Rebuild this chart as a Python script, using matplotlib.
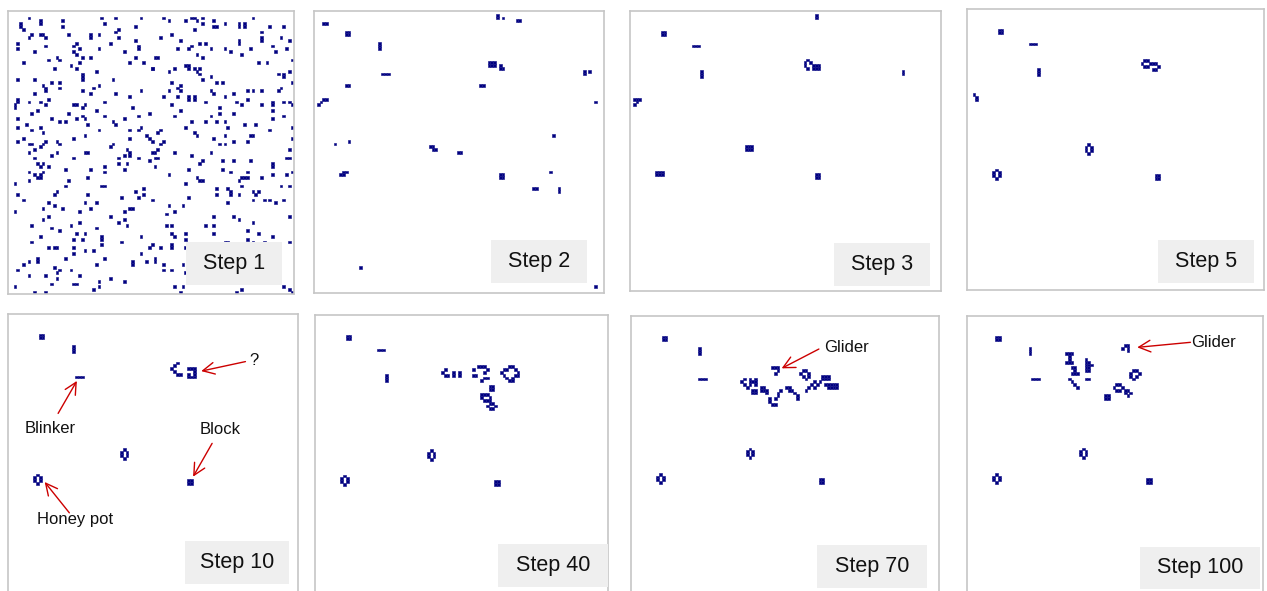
import matplotlib.pyplot as plt
from matplotlib.patches import Rectangle
from matplotlib.collections import PatchCollection

plt.rcParams['font.family'] = ['Liberation Sans', 'DejaVu Sans']

# live cells of each snapshot, (column, row) on the board, row 0 at the top
step1_cells = [
    (7,2),(4,4),(4,5),(5,6),(11,3),(11,4),(19,3),(19,5),(33,2),(34,4),(38,2),(47,2),(45,5),(39,6),(38,7),
    (39,9),(7,9),(8,8),(11,8),(12,8),(13,9),(21,8),(29,8),(29,9),(32,8),(36,11),(45,10),(46,12),(46,13),
    (3,11),(3,13),(9,14),(13,12),(23,12),(24,11),(25,13),(23,14),(24,15),(32,13),(41,14),(45,16),(52,16),
    (5,18),(14,17),(17,16),(18,17),(26,16),(29,16),(25,18),(22,19),(24,20),(16,20),(43,18),(48,18),(51,20),
    (31,21),(26,22),(26,23),(26,24),(3,24),(9,24),(15,25),(18,25),(18,27),(12,26),(13,27),(13,28),(37,24),
    (32,26),(30,27),(26,28),(29,29),(9,29),(14,31),(47,28),(38,29),(43,30),(3,31),(3,32),(2,33),(2,34),
    (7,32),(11,32),(13,33),(23,33),(24,33),(27,33),(26,34),(34,32),(44,34),(10,35),(8,36),(21,36),(26,37),
    (27,38),(31,35),(34,37),(41,38),(46,37),(50,36),(3,38),(15,38),(18,39),(20,39),(24,38),(28,40),(37,39),
    (38,40),(6,40),(3,41),(11,41),(12,43),(8,42),(32,42),(43,42),(47,41),(46,42),(27,44),(23,45),(5,45),
    (3,46),(49,44),(50,45),(51,46),(43,45),(7,47),(8,47),(11,48),(12,47),(13,46),(17,46),(18,47),(9,49),
    (37,47),(36,48),(7,50),(15,51),(17,50),(27,50),(28,50),(42,49),(43,50),(43,51),(41,51),(51,50),
    (55,2),(57,3),(63,3),(65,2),(66,2),(67,3),(69,2),(69,4),(66,6),(73,3),(73,5),(74,5),(77,4),(82,4),
    (82,5),(84,4),(84,5),(87,2),(93,5),(98,5),(90,7),(90,9),(90,10),(54,9),(58,8),(61,10),(68,11),(70,11),
    (82,10),(82,11),(97,9),(100,10),(60,13),(64,13),(65,12),(72,13),(77,13),(79,14),(83,15),(86,13),
    (94,12),(95,14),(99,13),(67,15),(69,16),(53,16),(101,17),(89,18),(92,18),(51,20),(57,21),(59,20),
    (63,19),(64,19),(64,20),(66,20),(67,21),(68,20),(68,22),(69,24),(72,23),(74,25),(76,25),(96,22),
    (98,22),(98,23),(100,21),(101,25),(58,25),(61,26),(60,27),(61,28),(57,28),(72,28),(73,29),(77,30),
    (80,29),(85,28),(87,28),(90,28),(96,28),(97,27),(55,30),(60,30),(64,30),(64,31),(66,30),(66,31),
    (70,32),(75,34),(81,32),(83,33),(85,31),(90,33),(94,32),(94,33),(98,32),(100,32),(101,33),(58,33),
    (61,35),(59,37),(75,36),(80,36),(94,35),(94,38),(98,37),(72,37),(65,39),(70,39),(74,39),(77,39),
    (63,41),(78,41),(84,40),(88,40),(101,41),(93,42),(54,42),(53,43),(66,43),(67,44),(73,45),(77,44),
    (86,44),(87,44),(101,45),(55,46),(54,47),(75,47),(77,47),(80,46),(85,46),(53,49),(52,50),(59,50),
    (65,51),(72,50),(100,49),
    (9,52),(23,52),(39,52),(46,52),(52,52),(50,53),(10,54),(11,55),(12,54),(14,55),(20,56),(29,56),
    (34,55),(34,57),(39,54),(42,54),(41,56),(52,55),(7,57),(9,58),(10,59),(11,59),(12,57),(11,58),
    (7,60),(2,61),(21,60),(28,59),(33,62),(34,62),(20,62),(48,63),(45,64),(46,66),(48,65),(3,65),
    (16,65),(17,64),(28,65),(40,66),(5,67),(14,68),(16,69),(27,68),(31,68),(29,70),(19,70),(12,70),
    (25,71),(41,71),(43,70),(44,70),(51,67),(2,71),(14,73),(12,74),(36,73),(41,74),(39,75),(42,76),
    (25,75),(22,76),(8,76),(15,77),(18,78),(31,77),(24,79),(27,79),(33,80),(33,81),(33,83),(23,81),
    (26,81),(11,80),(47,80),(8,82),(40,82),(51,83),(50,84),(14,84),(16,84),(17,84),(23,84),(23,86),
    (27,85),(30,85),(47,86),(20,88),(34,88),(10,88),(10,89),(7,89),(5,90),(44,89),(44,90),(49,89),
    (52,88),(52,89),(16,91),(18,92),(17,93),(22,92),(3,92),(7,94),(13,94),(17,95),(31,90),(25,94),
    (32,96),(36,95),(41,96),(15,97),(23,97),(24,97),(32,98),(30,99),(2,98),(9,100),(13,100),
    (53,52),(69,53),(68,54),(76,53),(80,53),(86,53),(94,54),(94,55),(99,52),(100,52),(57,58),(64,56),
    (76,56),(79,57),(85,57),(83,59),(84,59),(85,59),(82,60),(90,59),(94,58),(99,58),(101,57),(67,59),
    (68,60),(69,60),(63,61),(74,63),(74,65),(78,63),(79,64),(79,65),(82,65),(83,62),(87,64),(88,65),
    (89,64),(97,62),(100,62),(64,66),(78,68),(87,67),(91,67),(93,67),(95,68),(98,67),(57,69),(62,69),
    (59,71),(56,72),(73,73),(80,73),(82,74),(87,75),(100,73),(56,76),(58,76),(70,76),(73,76),(58,79),
    (59,80),(63,79),(63,81),(73,79),(85,78),(89,79),(94,80),(77,82),(78,82),(85,81),(87,82),(91,82),
    (100,82),(54,84),(58,83),(58,84),(63,84),(72,83),(55,90),(55,92),(58,92),(62,90),(63,93),(59,98),
    (62,98),(61,100),(81,100),(83,99),(98,98),(100,99),(101,100),
]

step2_cells = [
    (3,4),(4,4),(11,7),(12,7),(11,8),(12,8),(23,11),(23,12),(23,13),(24,22),(25,22),(26,22),
    (11,26),(12,26),(3,31),(4,31),(2,32),(1,33),(65,1),(65,2),(67,2),(72,3),(73,3),
    (62,18),(63,18),(64,18),(62,19),(63,19),(64,19),(66,19),(66,20),(67,20),(96,21),(96,22),(98,21),
    (59,26),(60,26),(100,32),(85,44),(7,47),(12,46),(41,48),(42,48),(42,49),(43,49),(51,50),(52,50),
    (10,57),(11,57),(9,58),(10,58),(66,58),(67,58),(66,59),(67,59),(84,57),(78,63),(79,63),
    (87,63),(87,64),(16,91),(100,98),
]

step3_cells = [
    (66,1),(66,2),(11,7),(12,7),(11,8),(12,8),(22,12),(23,12),(24,12),(25,21),(25,22),(25,23),
    (63,17),(62,18),(64,18),(62,19),(63,20),(65,19),(66,19),(67,19),(65,20),(66,20),(67,20),
    (97,21),(97,22),(1,31),(2,31),(3,31),(2,32),(1,33),
    (41,48),(42,48),(43,48),(41,49),(42,49),(43,49),(9,57),(10,57),(11,57),(9,58),(10,58),(11,58),
    (66,58),(67,58),(66,59),(67,59),
]

step5_cells = [
    (11,7),(12,7),(11,8),(12,8),(22,12),(23,12),(24,12),(25,21),(25,22),(25,23),(2,30),(3,31),(3,32),
    (63,18),(64,18),(62,19),(65,19),(66,19),(67,19),(63,20),(64,20),(68,20),(66,21),(67,21),
    (43,48),(42,49),(44,49),(42,50),(44,50),(43,51),(10,57),(9,58),(11,58),(9,59),(11,59),(10,60),
    (67,59),(68,59),(67,60),(68,60),
]

step10_cells = [
    (11,7),(12,7),(11,8),(12,8),(23,11),(23,12),(23,13),(24,22),(25,22),(26,22),
    (60,17),(59,18),(58,19),(59,20),(60,21),(61,21),
    (64,19),(65,19),(66,19),(66,20),(64,21),(66,21),(64,22),(65,22),(66,22),
    (41,48),(40,49),(42,49),(40,50),(42,50),(41,51),(10,57),(9,58),(11,58),(9,59),(11,59),(10,60),
    (64,59),(65,59),(64,60),(65,60),
]

step40_cells = [
    (11,7),(12,7),(11,8),(12,8),(22,12),(23,12),(24,12),(25,21),(25,22),(25,23),
    (46,19),(45,20),(46,21),(47,21),(49,20),(49,21),(51,20),(51,21),
    (58,18),(59,18),(60,18),(56,19),(61,19),(60,20),(56,21),(57,21),(61,22),(60,22),(59,23),
    (69,18),(70,18),(67,19),(68,19),(71,19),(66,20),(72,20),(67,21),(71,21),(72,21),(68,22),(70,22),
    (69,23),(70,23),
    (62,25),(63,25),(62,26),(63,26),(59,28),(60,28),(61,28),(59,29),(62,29),(60,30),(61,30),(62,30),
    (62,31),(63,31),(61,32),(64,32),(62,33),(63,33),
    (41,48),(40,49),(42,49),(40,50),(42,50),(41,51),(10,57),(9,58),(11,58),(9,59),(11,59),(10,60),
    (64,59),(65,59),(64,60),(65,60),
]

step70_cells = [
    (11,7),(12,7),(11,8),(12,8),(24,11),(24,12),(24,13),(24,22),(25,22),(26,22),
    (50,18),(51,18),(52,18),(52,19),(51,20),
    (61,19),(62,19),(60,20),(63,20),(61,21),(63,21),(62,22),
    (40,22),(39,23),(40,24),(41,25),(42,22),(42,23),(42,24),(43,23),(44,22),(44,23),(44,24),
    (43,26),(44,26),(43,27),(44,27),(46,25),(47,25),(46,26),(47,26),
    (48,26),(48,27),(49,29),(49,30),(53,26),(52,27),(52,28),(51,29),
    (55,25),(56,25),(56,26),(57,26),(58,27),(59,28),(59,29),(50,31),(51,31),
    (62,26),(63,25),(64,24),(65,23),(66,24),(65,25),(67,23),
    (68,21),(69,21),(70,21),(68,22),(69,22),(70,22),
    (69,24),(70,24),(71,24),(72,24),(73,24),(70,25),(71,25),(72,25),(73,25),
    (42,47),(41,48),(43,48),(41,49),(43,49),(42,50),(10,56),(9,57),(11,57),(9,58),(11,58),(10,59),
    (67,58),(68,58),(67,59),(68,59),
]

step100_cells = [
    (10,7),(11,7),(10,8),(11,8),(22,11),(22,12),(22,13),(23,22),(24,22),(25,22),
    (56,10),(57,10),(55,11),(57,11),(57,12),
    (35,13),(36,13),(37,13),(36,14),(36,15),(35,16),(36,16),(37,16),
    (37,18),(38,18),(38,19),(37,20),(38,20),(39,20),
    (42,15),(42,16),(43,16),(42,17),(43,17),(44,17),(42,18),(43,18),(42,19),(43,19),(42,22),(43,22),
    (36,22),(37,23),(38,24),(39,25),
    (59,19),(60,19),(58,20),(61,20),(58,21),(60,21),(59,22),
    (53,24),(54,24),(52,25),(55,25),(53,26),(54,26),
    (56,26),(57,26),(56,27),(58,27),(57,28),(49,28),(50,28),(49,29),(50,29),
    (41,47),(40,48),(42,48),(40,49),(42,49),(41,50),(10,56),(9,57),(11,57),(9,58),(11,58),(10,59),
    (64,58),(65,58),(64,59),(65,59),
]

step_labels = ['Step 1', 'Step 2', 'Step 3', 'Step 5', 'Step 10', 'Step 40', 'Step 70', 'Step 100']
all_cells = [step1_cells, step2_cells, step3_cells, step5_cells,
             step10_cells, step40_cells, step70_cells, step100_cells]

# callouts: panel, text, text centre, arrow tail, arrow head (board units)
notes = [
    (4, '?', (87.7, 16.7), (84.8, 17.0), (69.0, 20.4)),
    (4, 'Blinker', (15.1, 40.8), (17.9, 35.5), (24.6, 23.9)),
    (4, 'Block', (75.6, 41.4), (72.9, 46.2), (66.1, 58.1)),
    (4, 'Honey pot', (24.0, 73.3), (21.9, 71.0), (13.1, 60.0)),
    (6, 'Glider', (77.0, 11.2), (67.1, 11.8), (53.8, 18.7)),
    (7, 'Glider', (88.1, 9.4), (79.8, 9.4), (60.8, 11.2)),
]

W, H = 1267, 591
CELL = 2.8  # pixels per board cell

# panel frames and label boxes in pixels: left, top, width, height
frames = [(8, 11, 286, 283), (314, 11, 290, 282), (630, 11, 311, 280), (967, 9, 297, 281),
          (8, 314, 290, 286), (315, 315, 293, 285), (631, 316, 308, 284), (967, 316, 296, 284)]
boxes = [(186, 242, 96, 43), (491, 240, 96, 43), (834, 243, 96, 43), (1158, 240, 96, 43),
         (185, 541, 104, 43), (498, 544, 110, 43), (817, 545, 110, 43), (1140, 547, 120, 42)]

fig = plt.figure(figsize=(W / 100, H / 100), dpi=100)
axes = []
for i, (cells, label) in enumerate(zip(all_cells, step_labels)):
    x, y, w, h = frames[i]
    ax = fig.add_axes([x / W, 1 - (y + h) / H, w / W, h / H])
    ax.set_xlim(0, w / CELL)
    ax.set_ylim(h / CELL, 0)
    ax.set_xticks([])
    ax.set_yticks([])
    for s in ax.spines.values():
        s.set_color('#c6c6c6')
        s.set_linewidth(1.2)
    rects = [Rectangle((c, r), 1, 1) for c, r in cells]
    ax.add_collection(PatchCollection(rects, facecolor='#000080', edgecolor='#1a1a8c',
                                      linewidth=0.45, zorder=2))
    bx, by, bw, bh = boxes[i]
    ax.add_patch(Rectangle(((bx - x) / CELL, (by - y) / CELL), bw / CELL, bh / CELL,
                           facecolor='#efefef', edgecolor='none', zorder=3))
    ax.text((bx - x + bw / 2) / CELL, (by - y + bh / 2) / CELL, label,
            ha='center', va='center', fontsize=15.5, color='#111111', zorder=4)
    axes.append(ax)

for k, txt, pos, tail, head in notes:
    ax = axes[k]
    ax.annotate('', xy=head, xytext=tail,
                arrowprops=dict(arrowstyle='->,head_length=0.6,head_width=0.3', color='#cc0000',
                                lw=1.0, shrinkA=0, shrinkB=0, mutation_scale=14), zorder=5)
    ax.text(pos[0], pos[1], txt, ha='center', va='center', fontsize=12, color='#111111', zorder=5)

plt.savefig('out.png', dpi=100)
